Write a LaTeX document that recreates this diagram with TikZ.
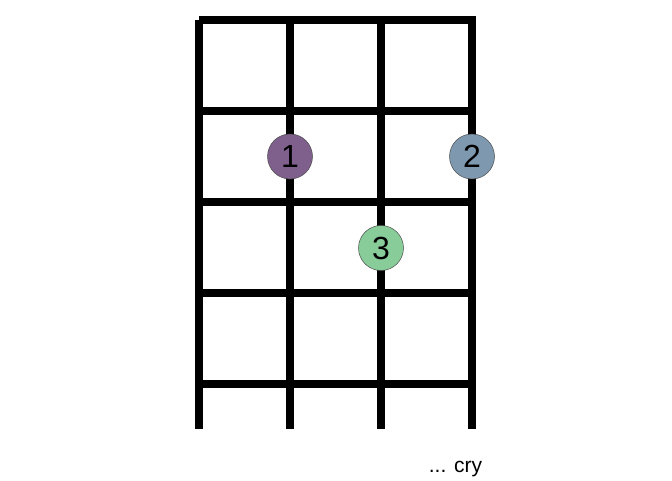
\documentclass[tikz,border=0pt]{standalone}
\usepackage{fontspec}
\setmainfont{Liberation Sans}
\definecolor{dotA}{HTML}{7F5F8C}
\definecolor{dotB}{HTML}{7E98B0}
\definecolor{dotC}{HTML}{88CC9A}
\begin{document}
\begin{tikzpicture}[x=1pt,y=1pt,
  grid/.style={line width=7.5pt,black},
  dot/.style={circle,draw=black!70,line width=0.5pt,minimum size=45pt,inner sep=0pt,font=\fontsize{32}{32}\selectfont},
  lbl/.style={font=\fontsize{21}{21}\selectfont}]
\useasboundingbox (0,0) rectangle (672,480);
% strings
\foreach \x [count=\i] in {199,290,381,472} {
  \coordinate (st\i) at (\x,460);
  \coordinate (sb\i) at (\x,51);
  \draw[grid] (st\i) -- (sb\i);
}
% frets
\foreach \y [count=\j] in {460,369,278,187,96} {
  \coordinate (fl\j) at (199,\y);
  \coordinate (fr\j) at (475.75,\y);
  \draw[grid] (fl\j) -- (fr\j);
}
\node[dot,fill=dotA] (d1) at (290,323.5) {1};
\node[dot,fill=dotB] (d2) at (472,323.5) {2};
\node[dot,fill=dotC] (d3) at (381,232) {3};
\node[lbl] (cry) at (455.5,11) {... cry};
\end{tikzpicture}
\end{document}
